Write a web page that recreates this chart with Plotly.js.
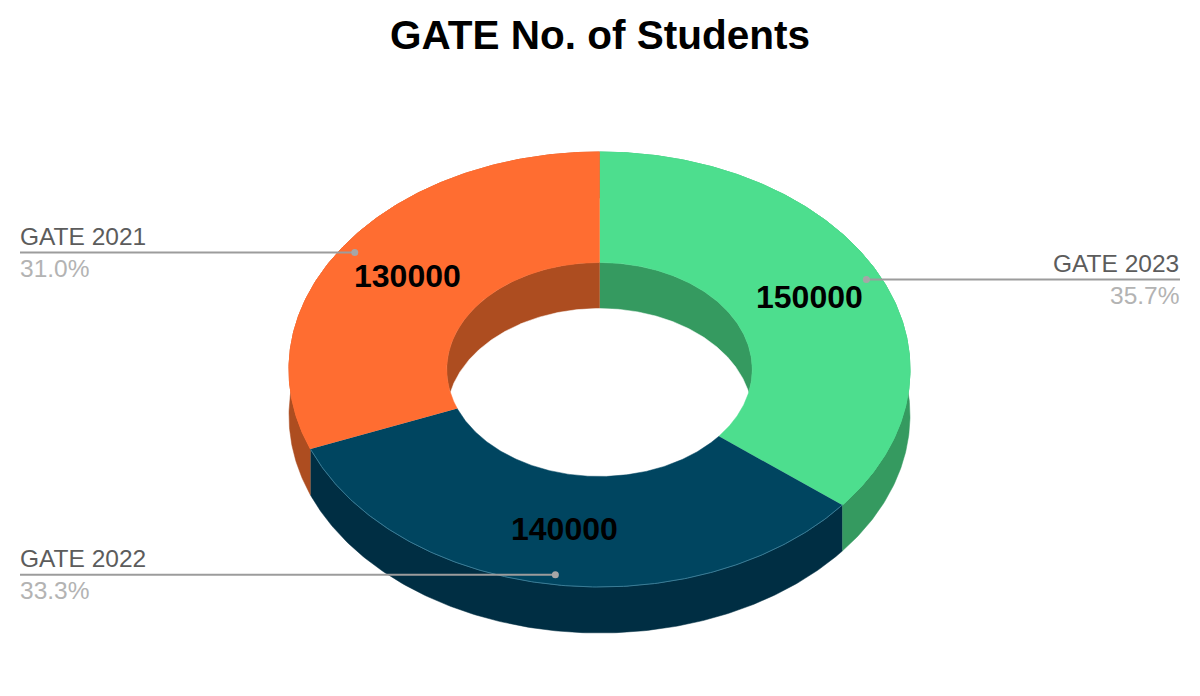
<!DOCTYPE html>
<html>
<head>
<meta charset="utf-8">
<script src="https://cdn.plot.ly/plotly-3.0.1.min.js"></script>
<style>html,body{margin:0;padding:0;background:#fff}#chart{width:1200px;height:696px}</style>
</head>
<body>
<div id="chart"></div>
<script>
// Data, in drawing order (clockwise from 12 o'clock)
const categories = ['GATE 2023', 'GATE 2022', 'GATE 2021'];
const students = [150000, 140000, 130000];

// Styles
const topColors = ['#4DDE8E', '#004560', '#FF6D31'];
const sideColors = ['#359A60', '#002E43', '#AD4D20'];
const rimColors = ['#4DDE8E', '#3A7C96', '#FF6D31'];

// Pie geometry on a pixel-sized axis
const cx = 599.5, cy = 369.5, rx = 310.5, ry = 217.5, hole = 0.492, depth = 46;
const labelFrac = 0.75, leaderFrac = 0.954, leftX = 20, rightX = 1180;
const fontFamily = '"Liberation Sans", Arial, sans-serif';

const total = students.reduce((a, b) => a + b, 0);
const px = (f, a) => cx + rx * f * Math.sin(a);
const py = (f, a, dy) => cy - ry * f * Math.cos(a) + (dy || 0);
const arc = (f, a0, a1, dy) => {
  const n = Math.max(2, Math.ceil(Math.abs(a1 - a0) * 90));
  const xs = [], ys = [];
  for (let i = 0; i <= n; i++) {
    const a = a0 + (a1 - a0) * i / n;
    xs.push(px(f, a)); ys.push(py(f, a, dy));
  }
  return [xs, ys];
};
const poly = (color, pts) => ({
  type: 'scatter', mode: 'lines', x: pts[0], y: pts[1], fill: 'toself',
  fillcolor: color, line: {color: color, width: 0.5},
  hoverinfo: 'skip', showlegend: false
});
const join = (a, b) => [a[0].concat(b[0]), a[1].concat(b[1])];

const spans = [];
let run = 0;
students.forEach(v => {
  const a0 = run / total * 2 * Math.PI;
  run += v;
  spans.push([a0, run / total * 2 * Math.PI]);
});

const traces = [];
// outer side walls
spans.forEach((s, i) => {
  traces.push(poly(sideColors[i], join(arc(1, s[0], s[1], 0), arc(1, s[1], s[0], depth))));
});
// inner walls, seen through the hole
spans.forEach((s, i) => {
  traces.push(poly(sideColors[i], join(arc(hole, s[0], s[1], 0), arc(0, s[1], s[0], 0))));
});
// opening of the hole: the hole's rim shifted down by the depth
traces.push(poly('#ffffff', arc(hole, 0, 2 * Math.PI, depth)));
// top surface
spans.forEach((s, i) => {
  traces.push(poly(topColors[i], join(arc(1, s[0], s[1], 0), arc(hole, s[1], s[0], 0))));
  const rim = arc(1, s[0], s[1], 0);
  traces.push({
    type: 'scatter', mode: 'lines', x: rim[0], y: rim[1],
    line: {color: rimColors[i], width: 1}, hoverinfo: 'skip', showlegend: false
  });
});

// leaders and labels
const annotations = [];
spans.forEach((s, i) => {
  const mid = (s[0] + s[1]) / 2;
  const dotX = px(leaderFrac, mid), dotY = py(leaderFrac, mid);
  const onLeft = i !== 0;
  const endX = onLeft ? leftX : rightX;
  traces.push({
    type: 'scatter', mode: 'lines', x: [endX, dotX], y: [dotY, dotY],
    line: {color: '#9C9C9C', width: 2}, hoverinfo: 'skip', showlegend: false
  });
  traces.push({
    type: 'scatter', mode: 'markers', x: [dotX], y: [dotY],
    marker: {color: '#A6A6A6', size: 7}, hoverinfo: 'skip', showlegend: false
  });
  annotations.push({
    x: px(labelFrac, mid), y: py(labelFrac, mid) - 2, xref: 'x', yref: 'y', showarrow: false,
    text: '<b>' + students[i] + '</b>', xanchor: 'center', yanchor: 'middle',
    font: {family: fontFamily, size: 32, color: '#000000'}
  });
  const anchor = onLeft ? 'left' : 'right';
  annotations.push({
    x: endX, y: dotY - 16, xref: 'x', yref: 'y', showarrow: false, text: categories[i],
    xanchor: anchor, yanchor: 'middle', xshift: onLeft ? -1 : 0, borderpad: 0,
    font: {family: fontFamily, size: 24.5, color: '#5C5C5C'}
  });
  annotations.push({
    x: endX, y: dotY + 16, xref: 'x', yref: 'y', showarrow: false,
    text: (students[i] / total * 100).toFixed(1) + '%',
    xanchor: anchor, yanchor: 'middle', xshift: onLeft ? -1 : 0, borderpad: 0,
    font: {family: fontFamily, size: 24.5, color: '#B3B3B3'}
  });
});

const hiddenAxis = {visible: false, fixedrange: true, showgrid: false, zeroline: false};
Plotly.newPlot('chart', traces, {
  width: 1200, height: 696,
  margin: {l: 0, r: 0, t: 0, b: 0},
  paper_bgcolor: '#ffffff', plot_bgcolor: '#ffffff',
  title: {
    text: '<b>GATE No. of Students</b>',
    x: 0.5, xanchor: 'center', y: 1 - 35 / 696, yanchor: 'middle',
    font: {family: fontFamily, size: 40.5, color: '#000000'}
  },
  xaxis: Object.assign({range: [0, 1200]}, hiddenAxis),
  yaxis: Object.assign({range: [696, 0]}, hiddenAxis),
  annotations: annotations,
  showlegend: false
}, {displayModeBar: false, staticPlot: true});
</script>
</body>
</html>
